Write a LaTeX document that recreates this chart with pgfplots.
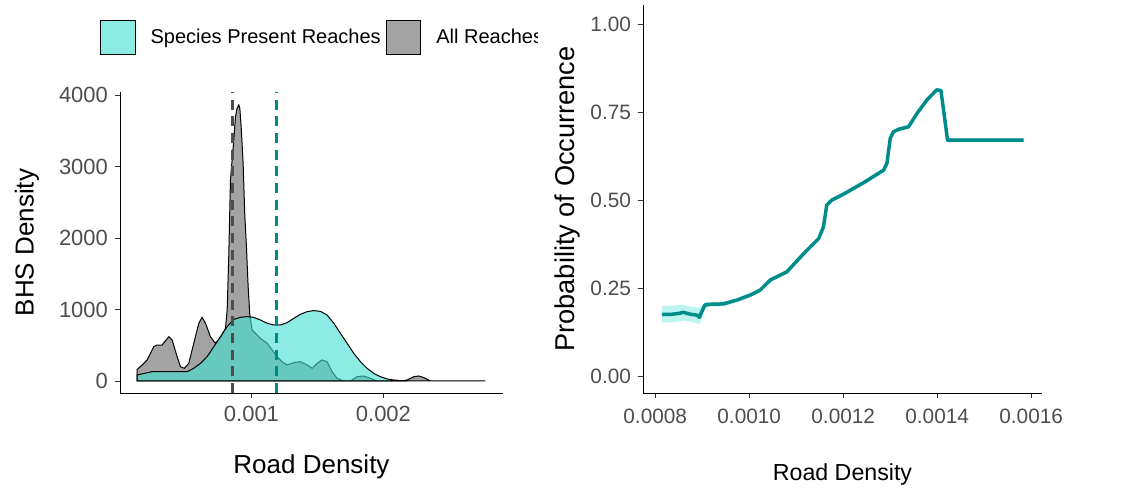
\documentclass[border=0pt]{standalone}
\usepackage{pgfplots}
\pgfplotsset{compat=1.18}
\usepackage{fontspec}
\setmainfont{Liberation Sans}
\definecolor{turq}{HTML}{40E0D0}
\definecolor{dcyan}{HTML}{008B8B}
\definecolor{grayfill}{HTML}{666666}
\definecolor{ticklab}{HTML}{4D4D4D}
\definecolor{tickcol}{HTML}{333333}
\begin{document}
\begin{tikzpicture}
\useasboundingbox (0,0) rectangle (854.25pt,368.25pt);
\pgfplotsset{
  ggaxis/.style={
    scale only axis,
    axis x line*=bottom, axis y line*=left,
    axis line style={black, line width=0.7pt, -},
    tick align=outside,
    major tick length=3.5pt,
    tick style={tickcol, line width=0.7pt},
    x tick label style={ticklab, yshift=-3pt},
    y tick label style={ticklab, xshift=-2pt},
    scaled x ticks=false, scaled y ticks=false,
    /pgf/number format/assume math mode=true,
  }
}
\begin{scope}
\clip (0,0) rectangle (402.75pt,368.25pt);
\begin{axis}[ggaxis,
  at={(90pt,73.5pt)}, anchor=south west,
  width=287.25pt, height=225.75pt,
  xmin=0.000004, xmax=0.002906, ymin=-168, ymax=4042,
  xtick={0.001,0.002}, xticklabels={0.001,0.002},
  ytick={0,1000,2000,3000,4000}, yticklabels={0,1000,2000,3000,4000},
  tick label style={font=\fontsize{16.5pt}{18pt}\selectfont},
  xlabel={Road Density}, ylabel={BHS Density},
  label style={font=\fontsize{19.5pt}{22pt}\selectfont},
  xlabel style={at={(axis description cs:0.5,-0.244)}, anchor=center},
  ylabel style={at={(axis description cs:-0.2428,0.5)}, anchor=center},
  legend columns=2,
  legend style={at={(axis description cs:-0.0522,1.181)}, anchor=west, draw=none, fill=none,
    inner sep=0pt, outer sep=0pt, font=\fontsize{15pt}{17pt}\selectfont,
    nodes={inner sep=0pt},
    /tikz/every odd column/.style={column sep=11.25pt},
    /tikz/every even column/.style={column sep=3.75pt}},
  legend image code/.code={\draw[#1] (0pt,-13pt) rectangle (26pt,13pt);},
]
\addlegendimage{fill=turq, fill opacity=0.6, draw=black, line width=0.7pt}
\addlegendentry{Species Present Reaches}
\addlegendimage{fill=grayfill, fill opacity=0.6, draw=black, line width=0.7pt}
\addlegendentry{All Reaches}
% All reaches
\addplot[forget plot, fill=grayfill, fill opacity=0.6, draw=black, line width=0.75pt] coordinates {
(0.000134,0) (0.000134,160) (0.000172,224) (0.000210,294) (0.000260,480) (0.000285,503)
(0.000323,503) (0.000374,620) (0.000399,573) (0.000437,340) (0.000462,200) (0.000492,177)
(0.000525,247) (0.000563,527) (0.000601,807) (0.000626,890) (0.000652,807) (0.000689,620)
(0.000727,527) (0.000765,600) (0.000803,737) (0.000816,993) (0.000828,1739) (0.000841,2811)
(0.000866,3371) (0.000879,3697) (0.000891,3813) (0.000904,3860) (0.000912,3813) (0.000922,3557)
(0.000937,3044) (0.000949,2345) (0.000962,1879) (0.000975,1319) (0.000987,946) (0.000997,807)
(0.001005,713) (0.001030,667) (0.001068,597) (0.001119,527) (0.001157,434) (0.001194,340)
(0.001232,270) (0.001270,224) (0.001321,256) (0.001371,270) (0.001422,224) (0.001460,177)
(0.001497,247) (0.001535,294) (0.001573,270) (0.001611,130) (0.001649,37) (0.001699,0)
(0.001750,0) (0.001801,61) (0.001851,70) (0.001902,37) (0.001952,0) (0.002129,0)
(0.002179,14) (0.002230,60) (0.002268,70) (0.002306,47) (0.002356,0) (0.002773,0)
} -- cycle;
% Species present
\addplot[forget plot, fill=turq, fill opacity=0.6, draw=black, line width=0.75pt] coordinates {
(0.000134,0) (0.000134,84) (0.000247,130) (0.000513,130) (0.000563,177) (0.000614,247)
(0.000664,340) (0.000715,480) (0.000765,620) (0.000816,760) (0.000866,862) (0.000917,890)
(0.000967,900) (0.001018,890) (0.001068,853) (0.001119,807) (0.001169,783) (0.001220,783)
(0.001270,816) (0.001321,876) (0.001371,932) (0.001422,970) (0.001472,984) (0.001523,974)
(0.001573,923) (0.001624,807) (0.001674,667) (0.001725,527) (0.001775,387) (0.001826,270)
(0.001876,177) (0.001927,107) (0.001977,60) (0.002028,28) (0.002078,14) (0.002129,5)
(0.002180,0)
} -- cycle;
\addplot[forget plot, draw=ticklab, line width=2pt, dash pattern=on 7.5pt off 5pt] coordinates {(0.000856,-168) (0.000856,4042)};
\addplot[forget plot, draw=dcyan, line width=2pt, dash pattern=on 7.5pt off 5pt] coordinates {(0.00119,-168) (0.00119,4042)};
\end{axis}
\end{scope}
\begin{axis}[ggaxis,
  at={(482.25pt,73.5pt)}, anchor=south west,
  width=299.25pt, height=291pt,
  xmin=0.000774, xmax=0.001623, ymin=-0.048, ymax=1.054,
  xtick={0.0008,0.0010,0.0012,0.0014,0.0016}, xticklabels={0.0008,0.0010,0.0012,0.0014,0.0016},
  ytick={0,0.25,0.5,0.75,1}, yticklabels={0.00,0.25,0.50,0.75,1.00},
  tick label style={font=\fontsize{15.6pt}{17pt}\selectfont},
  x tick label style={yshift=-2pt},
  xlabel={Road Density}, ylabel={Probability of Occurrence},
  xlabel style={font=\fontsize{17.4pt}{20pt}\selectfont, at={(axis description cs:0.5,-0.211)}, anchor=center},
  ylabel style={font=\fontsize{20.4pt}{23pt}\selectfont, at={(axis description cs:-0.190,0.5)}, anchor=center},
]
\addplot[fill=turq, fill opacity=0.35, draw=none] coordinates {
(0.000814,0.199) (0.000832,0.200) (0.000850,0.202) (0.000860,0.202) (0.000874,0.198)
(0.000889,0.195) (0.000894,0.192) (0.000899,0.200) (0.000906,0.210) (0.000917,0.211)
(0.000945,0.212) (0.000974,0.222) (0.001002,0.236) (0.001023,0.250) (0.001045,0.279)
(0.001080,0.302) (0.001116,0.354) (0.001148,0.397) (0.001158,0.430) (0.001165,0.492)
(0.001176,0.506) (0.001201,0.523) (0.001243,0.555) (0.001286,0.591) (0.001293,0.610)
(0.001300,0.681) (0.001307,0.700) (0.001318,0.707) (0.001339,0.714) (0.001357,0.752)
(0.001378,0.790) (0.001399,0.819) (0.001408,0.817) (0.001422,0.676) (0.001584,0.676)
(0.001584,0.664) (0.001422,0.664) (0.001408,0.805) (0.001399,0.807) (0.001378,0.778)
(0.001357,0.740) (0.001339,0.702) (0.001318,0.695) (0.001307,0.688) (0.001300,0.669)
(0.001293,0.598) (0.001286,0.579) (0.001243,0.543) (0.001201,0.511) (0.001176,0.494)
(0.001165,0.480) (0.001158,0.418) (0.001148,0.385) (0.001116,0.342) (0.001080,0.290)
(0.001045,0.267) (0.001023,0.238) (0.001002,0.224) (0.000974,0.210) (0.000945,0.198)
(0.000917,0.197) (0.000906,0.193) (0.000899,0.160) (0.000894,0.148) (0.000889,0.150)
(0.000874,0.155) (0.000860,0.158) (0.000850,0.155) (0.000832,0.153) (0.000814,0.152)
} -- cycle;
\addplot[draw=dcyan, line width=2.6pt, line join=round] coordinates {
(0.000814,0.175) (0.000832,0.175) (0.000850,0.178) (0.000860,0.181) (0.000874,0.176)
(0.000889,0.173) (0.000894,0.167) (0.000899,0.183) (0.000906,0.202) (0.000917,0.204)
(0.000945,0.205) (0.000974,0.216) (0.001002,0.230) (0.001023,0.244) (0.001045,0.273)
(0.001080,0.296) (0.001116,0.348) (0.001148,0.391) (0.001158,0.424) (0.001165,0.486)
(0.001176,0.500) (0.001201,0.517) (0.001243,0.549) (0.001286,0.585) (0.001293,0.604)
(0.001300,0.675) (0.001307,0.694) (0.001318,0.701) (0.001339,0.708) (0.001357,0.746)
(0.001378,0.784) (0.001399,0.813) (0.001408,0.811) (0.001422,0.670) (0.001584,0.670)
};
\end{axis}
\end{tikzpicture}
\end{document}
